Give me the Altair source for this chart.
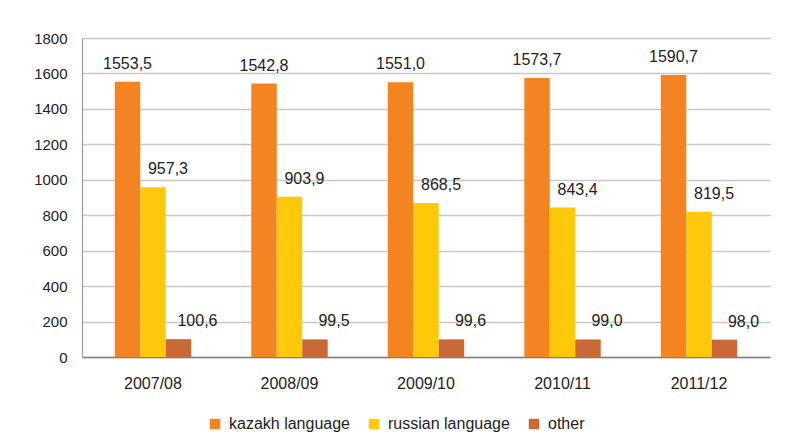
import altair as alt
import pandas as pd

categories = ["2007/08", "2008/09", "2009/10", "2010/11", "2011/12"]
series = ["kazakh language", "russian language", "other"]
kazakh = [1553.5, 1542.8, 1551.0, 1573.7, 1590.7]
russian = [957.3, 903.9, 868.5, 843.4, 819.5]
other = [100.6, 99.5, 99.6, 99.0, 98.0]
y_ticks = [0, 200, 400, 600, 800, 1000, 1200, 1400, 1600, 1800]
colors = ["#F38421", "#FEC80B", "#C96A36"]

rows = []
for name, vals in zip(series, [kazakh, russian, other]):
    for c, v in zip(categories, vals):
        rows.append({"year": c, "series": name, "value": v})
df = pd.DataFrame(rows)

FONT = "Liberation Sans"

base = alt.Chart(df).transform_calculate(
    label="replace(format(datum.value, '.1f'), '.', ',')"
)

x = alt.X("year:N", sort=categories, title=None,
          scale=alt.Scale(paddingInner=0.44, paddingOuter=0.24),
          axis=alt.Axis(labelAngle=0, labelFontSize=16, labelColor="#222222",
                        labelFont=FONT, ticks=False, labelPadding=18,
                        domainColor="#808080", domainWidth=1.5, grid=False))
xoff = alt.XOffset("series:N", sort=series, scale=alt.Scale(paddingInner=0, paddingOuter=0))
y = alt.Y("value:Q", title=None,
          scale=alt.Scale(domain=[0, 1800], nice=False),
          axis=alt.Axis(values=y_ticks, format="d", labelOverlap=False,
                        labelFontSize=15, labelColor="#222222", labelFont=FONT,
                        ticks=False, labelPadding=15, domainColor="#9a9a9a",
                        domainWidth=1.2, gridColor="#c8c8c8", gridWidth=1.3))

bars = base.mark_bar().encode(
    x=x, xOffset=xoff, y=y,
    color=alt.Color("series:N", sort=series,
                    scale=alt.Scale(domain=series, range=colors),
                    legend=alt.Legend(title=None, orient="none", direction="horizontal",
                                      legendX=125, legendY=378,
                                      symbolType="square", symbolSize=110,
                                      symbolStrokeWidth=0, symbolOpacity=1,
                                      labelFontSize=16, labelFont=FONT,
                                      labelColor="#222222", columnPadding=16,
                                      labelOffset=6)),
)

dxs = [0, 15, 19]
texts = []
for s, d in zip(series, dxs):
    texts.append(
        base.transform_filter(alt.datum.series == s).mark_text(
            baseline="bottom", dy=-10, dx=d, fontSize=16, font=FONT, color="#222222"
        ).encode(
            x=x, xOffset=xoff, y=y,
            text="label:N",
        )
    )

chart = alt.layer(bars, *texts).properties(
    width=688, height=319,
    autosize=alt.AutoSizeParams(type="none"),
    padding={"left": 74, "top": 30, "right": 8, "bottom": 78},
    background="white",
).configure_view(stroke=None)

chart.save("out.html", embed_options={"renderer": "svg", "actions": False})
